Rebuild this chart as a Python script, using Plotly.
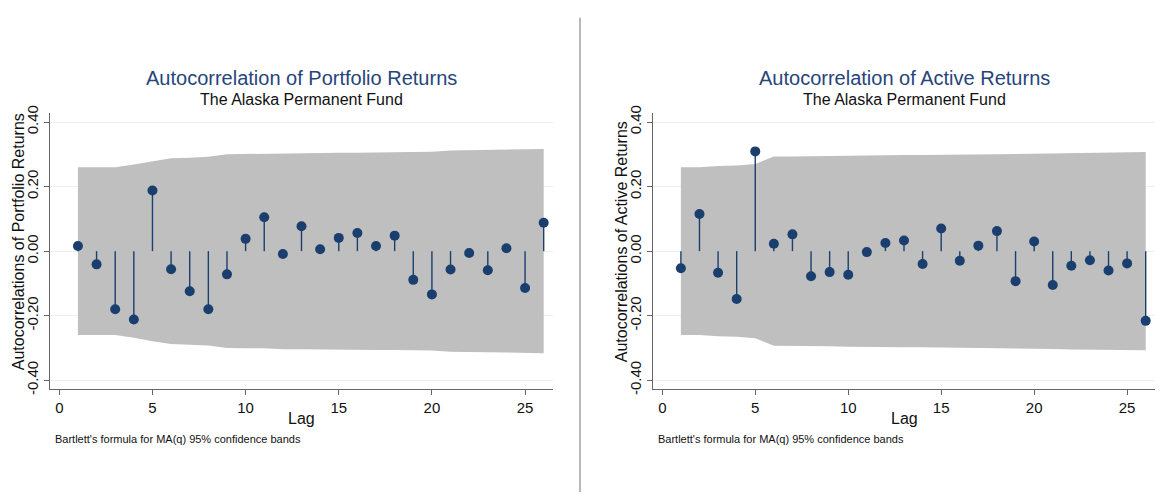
import plotly.graph_objects as go

lags = list(range(1, 27))

portfolio_acf = [0.016, -0.041, -0.180, -0.212, 0.188, -0.056, -0.124, -0.180, -0.072, 0.038,
                 0.105, -0.009, 0.077, 0.006, 0.041, 0.056, 0.016, 0.048, -0.089, -0.134,
                 -0.057, -0.006, -0.059, 0.009, -0.114, 0.088]
portfolio_band = [0.260, 0.260, 0.260, 0.268, 0.279, 0.288, 0.289, 0.292, 0.300, 0.301,
                  0.301, 0.304, 0.304, 0.305, 0.305, 0.305, 0.306, 0.306, 0.306, 0.308,
                  0.312, 0.313, 0.313, 0.314, 0.314, 0.316]

active_acf = [-0.053, 0.115, -0.067, -0.148, 0.309, 0.023, 0.052, -0.078, -0.065, -0.073,
              -0.003, 0.025, 0.033, -0.040, 0.070, -0.030, 0.017, 0.062, -0.093, 0.030,
              -0.105, -0.045, -0.028, -0.060, -0.038, -0.216]
active_band = [0.260, 0.260, 0.264, 0.265, 0.270, 0.293, 0.293, 0.294, 0.295, 0.296,
               0.298, 0.298, 0.298, 0.298, 0.298, 0.299, 0.300, 0.300, 0.301, 0.302,
               0.303, 0.305, 0.306, 0.306, 0.307, 0.307]

y_ticks = [-0.4, -0.2, 0.0, 0.2, 0.4]
y_tick_text = ["-0.40", "-0.20", "0.00", "0.20", "0.40"]
x_ticks = [0, 5, 10, 15, 20, 25]

panels = [
    dict(acf=portfolio_acf, band=portfolio_band,
         title="Autocorrelation of Portfolio Returns",
         ytitle="Autocorrelations of Portfolio Returns"),
    dict(acf=active_acf, band=active_band,
         title="Autocorrelation of Active Returns",
         ytitle="Autocorrelations of Active Returns"),
]

W, H = 1163, 498
x_domains = [[50 / W, 553 / W], [653 / W, 1155 / W]]
y_domain = [106 / H, 390 / H]

NAVY = "#1a3f6f"
BAND = "rgb(191,191,191)"
FONT = "Liberation Sans, Arial, sans-serif"

fig = go.Figure()
annotations = []

for i, p in enumerate(panels):
    xa = "x" if i == 0 else "x2"
    ya = "y" if i == 0 else "y2"
    band = p["band"]
    bx = lags + lags[::-1]
    by = band + [-b for b in band[::-1]]
    fig.add_trace(go.Scatter(x=bx, y=by, fill="toself", fillcolor=BAND,
                             line=dict(width=0, color=BAND), mode="lines",
                             hoverinfo="skip", showlegend=False, xaxis=xa, yaxis=ya))
    sx, sy = [], []
    for k, r in zip(lags, p["acf"]):
        sx += [k, k, None]
        sy += [0, r, None]
    fig.add_trace(go.Scatter(x=sx, y=sy, mode="lines", line=dict(color=NAVY, width=1.4),
                             hoverinfo="skip", showlegend=False, xaxis=xa, yaxis=ya))
    fig.add_trace(go.Scatter(x=lags, y=p["acf"], mode="markers",
                             marker=dict(color=NAVY, size=10),
                             showlegend=False, xaxis=xa, yaxis=ya))

    x0, x1 = x_domains[i]
    cx = (x0 + x1) / 2
    px_left = x0 * W
    annotations += [
        dict(text=p["title"], x=cx, y=1 - 72 / H, xref="paper", yref="paper",
             showarrow=False, font=dict(family=FONT, size=20, color="#27457a"),
             xanchor="center", yanchor="middle"),
        dict(text="The Alaska Permanent Fund", x=cx, y=1 - 94 / H, xref="paper", yref="paper",
             showarrow=False, font=dict(family=FONT, size=16, color="#111111"),
             xanchor="center", yanchor="middle"),
        dict(text="Lag", x=cx, y=1 - 422 / H, xref="paper", yref="paper",
             showarrow=False, font=dict(family=FONT, size=16, color="#111111"),
             xanchor="center", yanchor="middle"),
        dict(text="Bartlett's formula for MA(q) 95% confidence bands",
             x=(px_left + 3) / W, y=1 - 443 / H, xref="paper", yref="paper",
             showarrow=False, font=dict(family=FONT, size=11, color="#111111"),
             xanchor="left", yanchor="middle"),
        dict(text=p["ytitle"], x=(px_left - 32) / W, y=1 - 241 / H, xref="paper", yref="paper",
             showarrow=False, textangle=-90, font=dict(family=FONT, size=16, color="#111111"),
             xanchor="center", yanchor="middle"),
    ]

axis_common = dict(showline=True, linecolor="#666666", linewidth=1.2, ticks="outside",
                   ticklen=5, tickcolor="#666666", zeroline=False,
                   tickfont=dict(family=FONT, size=15, color="#111111"))

fig.update_layout(
    width=W, height=H,
    margin=dict(l=0, r=0, t=0, b=0),
    paper_bgcolor="white", plot_bgcolor="white",
    showlegend=False,
    annotations=annotations,
    shapes=[dict(type="line", xref="paper", yref="paper", x0=580 / W, x1=580 / W,
                 y0=0, y1=1 - 10 / H, line=dict(color="#8a8a8a", width=1.2))],
    xaxis=dict(domain=x_domains[0], range=[-0.5, 26.5], tickvals=x_ticks, anchor="y",
               showgrid=False, **axis_common),
    yaxis=dict(domain=y_domain, range=[-0.427, 0.428], tickvals=y_ticks, ticktext=y_tick_text,
               tickangle=-90, anchor="x", showgrid=True, gridcolor="#efefef", **axis_common),
    xaxis2=dict(domain=x_domains[1], range=[-0.5, 26.5], tickvals=x_ticks, anchor="y2",
                showgrid=False, **axis_common),
    yaxis2=dict(domain=y_domain, range=[-0.427, 0.428], tickvals=y_ticks, ticktext=y_tick_text,
                tickangle=-90, anchor="x2", showgrid=True, gridcolor="#efefef", **axis_common),
)

fig.write_html("out.html")
